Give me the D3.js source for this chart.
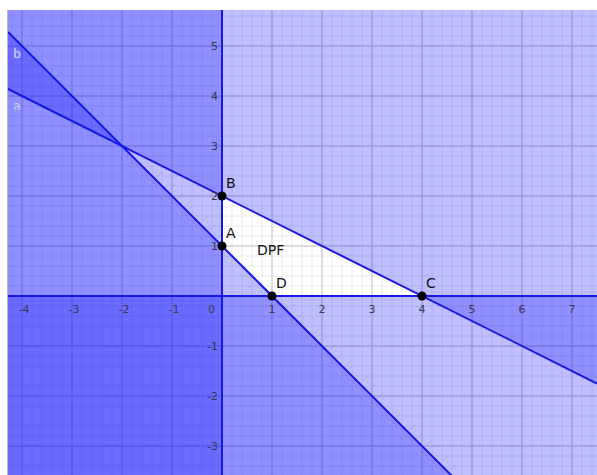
<!DOCTYPE html>
<html><head><meta charset="utf-8">
<script src="https://cdn.jsdelivr.net/npm/d3@7"></script>
<style>body{margin:0;background:#fff}svg{display:block}</style>
</head><body>
<script>
// ---- data ----
const xDomain = [-4.28, 7.5];
const yDomain = [-3.58, 5.72];
const xTicks = [-4, -3, -2, -1, 1, 2, 3, 4, 5, 6, 7];
const yTicks = [-3, -2, -1, 1, 2, 3, 4, 5];
// half-planes shaded (a*x + b*y > c is shaded)
const halfPlanes = [
  {a: -1, b: 0, c: 0},   // x < 0
  {a: 0, b: -1, c: 0},   // y < 0
  {a: 1, b: 2, c: 4},    // x + 2y > 4  (line a)
  {a: -1, b: -1, c: -1}  // x + y < 1   (line b)
];
// boundary lines a*x + b*y = c
const boundaryLines = [
  {name: "b", a: 1, b: 1, c: 1},
  {name: "a", a: 1, b: 2, c: 4},
  {name: "", a: 1, b: 0, c: 0},
  {name: "", a: 0, b: 1, c: 0}
];
const points = [
  {name: "A", x: 0, y: 1},
  {name: "B", x: 0, y: 2},
  {name: "C", x: 4, y: 0},
  {name: "D", x: 1, y: 0}
];
const regionLabel = {text: "DPF", x: 0.7, y: 0.82};
const lineLabels = [{text: "b", y: 4.76}, {text: "a", y: 3.72}];

// ---- layout ----
(function () {
const W = 597, H = 475;
const padL = 8, padT = 10;
const x = d3.scaleLinear().domain(xDomain).range([padL, W]);
const y = d3.scaleLinear().domain(yDomain).range([H, padT]);

const svg = d3.select("body").append("svg").attr("width", W).attr("height", H);
svg.append("rect").attr("x", padL).attr("y", padT).attr("width", W - padL).attr("height", H - padT).attr("fill", "#fff");

const g = svg.append("g");
// grid
const minor = d3.range(Math.ceil(xDomain[0] * 5), Math.floor(xDomain[1] * 5) + 1).map(v => v / 5);
const minorY = d3.range(Math.ceil(yDomain[0] * 5), Math.floor(yDomain[1] * 5) + 1).map(v => v / 5);
g.selectAll(".mx").data(minor).join("line")
  .attr("x1", d => x(d)).attr("x2", d => x(d)).attr("y1", padT).attr("y2", H)
  .attr("stroke", "#eaeaea").attr("stroke-width", 1);
g.selectAll(".my").data(minorY).join("line")
  .attr("y1", d => y(d)).attr("y2", d => y(d)).attr("x1", padL).attr("x2", W)
  .attr("stroke", "#eaeaea").attr("stroke-width", 1);
const majorX = d3.range(Math.ceil(xDomain[0]), Math.floor(xDomain[1]) + 1);
const majorY = d3.range(Math.ceil(yDomain[0]), Math.floor(yDomain[1]) + 1);
g.selectAll(".Mx").data(majorX).join("line")
  .attr("x1", d => x(d)).attr("x2", d => x(d)).attr("y1", padT).attr("y2", H)
  .attr("stroke", "#c4c4c4").attr("stroke-width", 1);
g.selectAll(".My").data(majorY).join("line")
  .attr("y1", d => y(d)).attr("y2", d => y(d)).attr("x1", padL).attr("x2", W)
  .attr("stroke", "#c4c4c4").attr("stroke-width", 1);

// clip domain rectangle by half-plane
function clip(poly, hp) {
  const out = [];
  const f = p => hp.a * p[0] + hp.b * p[1] - hp.c;
  for (let i = 0; i < poly.length; i++) {
    const p = poly[i], q = poly[(i + 1) % poly.length];
    const fp = f(p), fq = f(q);
    if (fp >= 0) out.push(p);
    if ((fp >= 0) !== (fq >= 0)) {
      const t = fp / (fp - fq);
      out.push([p[0] + t * (q[0] - p[0]), p[1] + t * (q[1] - p[1])]);
    }
  }
  return out;
}
const rectPoly = [[xDomain[0], yDomain[0]], [xDomain[1], yDomain[0]], [xDomain[1], yDomain[1]], [xDomain[0], yDomain[1]]];
g.selectAll(".hp").data(halfPlanes).join("path")
  .attr("d", hp => d3.line().x(p => x(p[0])).y(p => y(p[1]))(clip(rectPoly, hp)) + "Z")
  .attr("fill", "#0000ff").attr("fill-opacity", 0.25);

// boundary lines
function segment(l) {
  if (l.b === 0) return [[l.c / l.a, yDomain[0]], [l.c / l.a, yDomain[1]]];
  return [[xDomain[0], (l.c - l.a * xDomain[0]) / l.b], [xDomain[1], (l.c - l.a * xDomain[1]) / l.b]];
}
g.selectAll(".bl").data(boundaryLines).join("line")
  .attr("x1", d => x(segment(d)[0][0])).attr("y1", d => y(segment(d)[0][1]))
  .attr("x2", d => x(segment(d)[1][0])).attr("y2", d => y(segment(d)[1][1]))
  .attr("stroke", "#1818e4").attr("stroke-width", 2);

// tick labels
const font = "'DejaVu Sans', sans-serif";
svg.selectAll(".xt").data(xTicks).join("text")
  .attr("x", d => x(d) + (d < 0 ? 2 : 0)).attr("y", y(0) + 17)
  .attr("text-anchor", "middle").attr("font-family", font).attr("font-size", 11)
  .attr("fill", "#3a3a4a").text(d => d < 0 ? "-" + Math.abs(d) : d);
svg.append("text").attr("x", x(0) - 7).attr("y", y(0) + 17)
  .attr("text-anchor", "end").attr("font-family", font).attr("font-size", 11)
  .attr("fill", "#3a3a4a").text("0");
svg.selectAll(".yt").data(yTicks).join("text")
  .attr("x", x(0) - 4).attr("y", d => y(d) + 4)
  .attr("text-anchor", "end").attr("font-family", font).attr("font-size", 11)
  .attr("fill", "#3a3a4a").text(d => d < 0 ? "-" + Math.abs(d) : d);

// line labels
svg.selectAll(".ll").data(lineLabels).join("text")
  .attr("x", padL + 9).attr("y", d => y(d.y))
  .attr("text-anchor", "middle").attr("font-family", font).attr("font-size", 12)
  .attr("fill", "#ffffff").attr("stroke", "#9a9aee").attr("stroke-width", 0.5).text(d => d.text);

// points
svg.selectAll(".pt").data(points).join("circle")
  .attr("cx", d => x(d.x)).attr("cy", d => y(d.y)).attr("r", 4.5)
  .attr("fill", "#000");
svg.selectAll(".pl").data(points).join("text")
  .attr("x", d => x(d.x) + 4).attr("y", d => y(d.y) - 8)
  .attr("font-family", font).attr("font-size", 14).attr("fill", "#111").text(d => d.name);
svg.append("text").attr("x", x(regionLabel.x)).attr("y", y(regionLabel.y))
  .attr("font-family", font).attr("font-size", 14).attr("fill", "#111").text(regionLabel.text);

// left frame
svg.append("line").attr("x1", padL - 0.5).attr("x2", padL - 0.5).attr("y1", padT).attr("y2", H)
  .attr("stroke", "#b8b8b8").attr("stroke-width", 1);
})();
</script>
</body></html>
